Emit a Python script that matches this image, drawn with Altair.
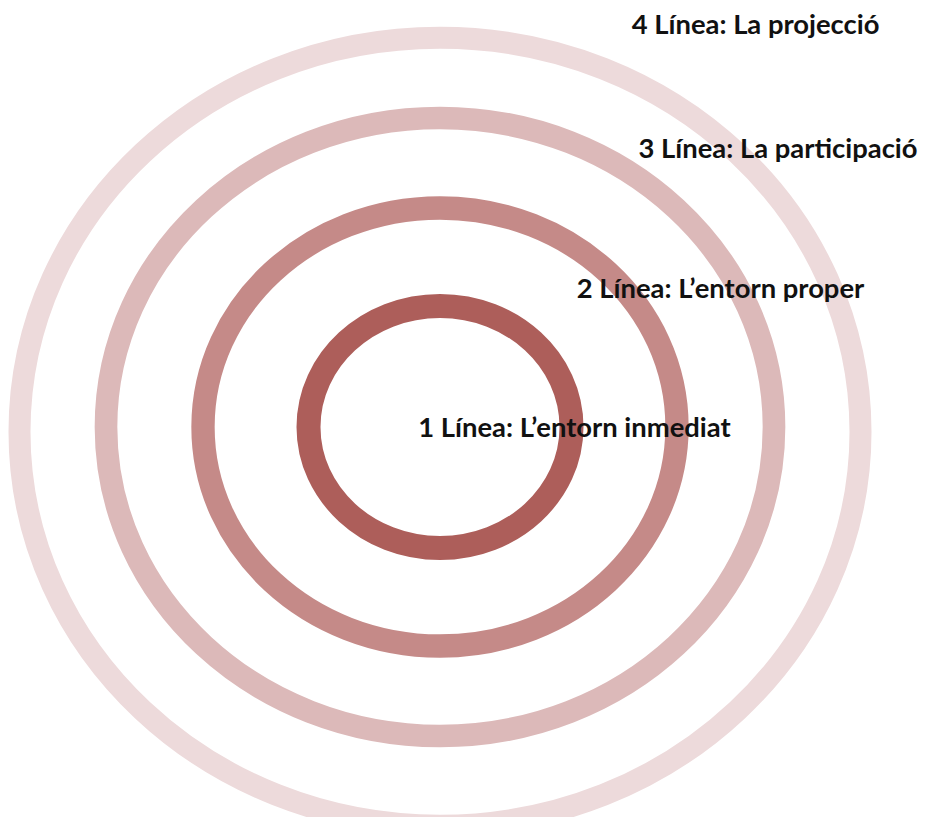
import altair as alt
import pandas as pd

# Rings (centre of the figure = 0,0; y grows downwards)
ring_names = ["1", "2", "3", "4"]
ring_rx = [131.5, 237, 334, 420.5]
ring_ry = [121, 219, 309, 394]
ring_cy = [0, 0, 0, 4.75]
ring_colors = ["#AD5E5A", "#C58A88", "#DCB9B9", "#EDDADB"]

# Labels
label_texts = [
    "1 Línea: L’entorn inmediat",
    "2 Línea: L’entorn proper",
    "3 Línea: La participació",
    "4 Línea: La projecció",
]
label_x = [-21.7, 136.7, 198.5, 191.7]
label_y = [10.3, -128.7, -268.7, -392.7]

K = 0.5523


def ellipse_path(k):
    c = K
    return (
        f"M 1 0 C 1 {c*k:.4f} {c:.4f} {k:.4f} 0 {k:.4f} "
        f"C {-c:.4f} {k:.4f} -1 {c*k:.4f} -1 0 "
        f"C -1 {-c*k:.4f} {-c:.4f} {-k:.4f} 0 {-k:.4f} "
        f"C {c:.4f} {-k:.4f} 1 {-c*k:.4f} 1 0 Z"
    )


rings = pd.DataFrame({
    "ring": ring_names,
    "rx": ring_rx,
    "ry": ring_ry,
    "cx": [0] * len(ring_names),
    "cy": ring_cy,
})
rings["size"] = (2 * rings["rx"]) ** 2
paths = [ellipse_path(ry / rx) for rx, ry in zip(ring_rx, ring_ry)]

labels = pd.DataFrame({"text": label_texts, "x": label_x, "y": label_y})

xscale = alt.Scale(domain=[-432, 480], nice=False, zero=False)
yscale = alt.Scale(domain=[-419, 390], nice=False, zero=False, reverse=True)

ring_layer = alt.Chart(rings).mark_point(filled=False, opacity=1).encode(
    x=alt.X("cx:Q", scale=xscale, axis=None),
    y=alt.Y("cy:Q", scale=yscale, axis=None),
    size=alt.Size("size:Q", scale=None, legend=None),
    shape=alt.Shape("ring:N", scale=alt.Scale(domain=ring_names, range=paths), legend=None),
    stroke=alt.Stroke("ring:N", scale=alt.Scale(domain=ring_names, range=ring_colors), legend=None),
    strokeWidth=alt.StrokeWidth("ring:N", scale=alt.Scale(domain=ring_names, range=[24, 22, 22, 22]), legend=None),
)

text_layer = alt.Chart(labels).mark_text(
    align="left",
    baseline="alphabetic",
    font="Lato",
    fontWeight="bold",
    fontSize=27.4,
    color="#111111",
).encode(
    x=alt.X("x:Q", scale=xscale, axis=None),
    y=alt.Y("y:Q", scale=yscale, axis=None),
    text="text:N",
)

chart = alt.layer(ring_layer, text_layer).properties(
    width=912,
    height=809,
    autosize=alt.AutoSizeParams(type="none"),
    padding=0,
).configure(
    background="white",
    view=alt.ViewConfig(strokeWidth=0, stroke="transparent"),
)

chart.save("out.html", embed_options={"renderer": "svg", "actions": False})
